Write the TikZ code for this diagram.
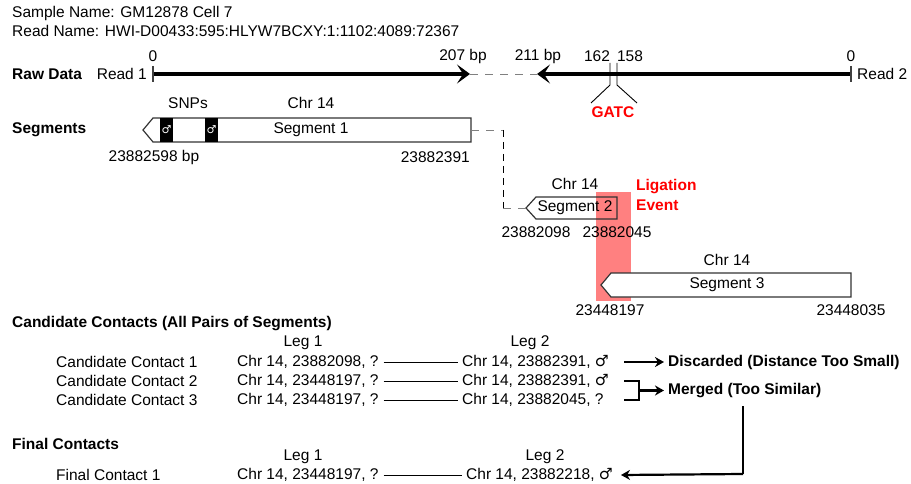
\documentclass[tikz,border=0pt]{standalone}
\usepackage{fontspec}
\setmainfont{Liberation Sans}
\newfontfamily\symfont{DejaVu Sans}
\usetikzlibrary{arrows.meta}

\definecolor{ligfill}{HTML}{FF8080}
\definecolor{ligtext}{HTML}{FF0000}
\newcommand{\malesym}{{\symfont\char"2642}}

\tikzset{
  lbl/.style={inner sep=0pt},
  hdr/.style={inner sep=0pt, anchor=west, font=\fontsize{15.5}{18}\bfseries},
  redlbl/.style={inner sep=0pt, text=ligtext, font=\fontsize{15.5}{18}\bfseries},
  readline/.style={line width=4.5pt, -{Stealth[length=13pt, width=19pt, inset=6pt]}},
  gapline/.style={gray, line width=0.9pt, dash pattern=on 8pt off 7pt},
  tickline/.style={darkgray, line width=1.4pt},
  segbox/.style={draw=black!80, line width=1.2pt, fill=white},
  snpbox/.style={fill=black, text=white, inner sep=0pt, minimum width=13pt,
    minimum height=24pt, font=\fontsize{11}{12}\selectfont},
  legline/.style={line width=0.9pt},
  resline/.style={line width=2.4pt},
  resarrow/.style={line width=2.2pt, -{Stealth[length=9pt, width=10pt]}},
}

\begin{document}
\begin{tikzpicture}[x=1pt, y=-1pt, font=\fontsize{15.5}{18}\selectfont, >=Stealth]
  \useasboundingbox (0,0) rectangle (911,484);
  \fill[white] (0,0) rectangle (911,484);

  % header
  \node[lbl, anchor=west] (sample) at (12,13) {Sample Name: GM12878 Cell 7};
  \node[lbl, anchor=west] (readname) at (12,31) {Read Name: HWI-D00433:595:HLYW7BCXY:1:1102:4089:72367};

  % raw data
  \node[hdr] (raw) at (12,74) {Raw Data};
  \node[lbl, anchor=east] (read1) at (147,74) {Read 1};
  \node[lbl, anchor=west] (read2) at (857,74) {Read 2};
  \coordinate (r1s) at (153,74);
  \coordinate (r1e) at (470,74);
  \coordinate (r2s) at (851,74);
  \coordinate (r2e) at (537,74);
  \draw[gapline] (r1e) -- (r2e);
  \draw[readline] (r1s) -- (r1e);
  \draw[readline] (r2s) -- (r2e);
  \draw[tickline] (153,66) -- (153,82);
  \draw[tickline] (851,66) -- (851,82);
  \node[lbl] (r1zero) at (153,56) {0};
  \node[lbl] (r1len) at (463,56) {207 bp};
  \node[lbl] (r2len) at (538,56) {211 bp};
  \node[lbl] (r2zero) at (851,56) {0};
  \node[lbl] (pos162) at (597,56) {162};
  \node[lbl] (pos158) at (630,56) {158};
  % restriction site
  \node[redlbl] (gatc) at (613,112) {GATC};
  \draw[line width=0.9pt] (610,63) -- (610,85) -- (591,103);
  \draw[line width=0.9pt] (617,63) -- (617,85) -- (637,103);

  % segments
  \node[hdr] (segs) at (12,130) {Segments};
  \draw[segbox] (153,118) -- (471,118) -- (471,142) -- (153,142) -- (143,130) -- cycle;
  \node[snpbox] (snp1) at (166.5,130) {\malesym};
  \node[snpbox] (snp2) at (211.5,130) {\malesym};
  \node[lbl] (snps) at (188,103) {SNPs};
  \node[lbl] (chr1) at (311,103) {Chr 14};
  \node[lbl] (seg1) at (311,130) {Segment 1};
  \node[lbl] (seg1l) at (154,157) {23882598 bp};
  \node[lbl, anchor=east] (seg1r) at (470,157) {23882391};

  \fill[ligfill] (596,192) rectangle (631,301);
  \node[redlbl, anchor=west] (lig1) at (636,187) {Ligation};
  \node[redlbl, anchor=west] (lig2) at (636,205) {Event};

  \draw[segbox, fill=none] (536,197) -- (617,197) -- (617,219) -- (536,219) -- (526,208) -- cycle;
  \node[lbl] (chr2) at (575,184) {Chr 14};
  \node[lbl] (seg2) at (575,208) {Segment 2};
  \node[lbl] (seg2l) at (536,232) {23882098};
  \node[lbl] (seg2r) at (617,232) {23882045};

  \draw[segbox] (611,273) -- (851,273) -- (851,297) -- (611,297) -- (601,285) -- cycle;
  \node[lbl] (chr3) at (727,260) {Chr 14};
  \node[lbl] (seg3) at (727,285) {Segment 3};
  \node[lbl] (seg3l) at (610,310) {23448197};
  \node[lbl] (seg3r) at (851,310) {23448035};

  % join segment 1 to segment 2
  \coordinate (j1) at (471,130);
  \coordinate (j2) at (503,130);
  \coordinate (j3) at (503,208);
  \coordinate (j4) at (526,208);
  \draw[gapline] (j1) -- (j2);
  \draw[line width=0.9pt, dash pattern=on 7pt off 5pt] (j2) -- (j3);
  \draw[gapline] (j3) -- (j4);

  % candidate contacts
  \node[hdr] (cand) at (12,324) {Candidate Contacts (All Pairs of Segments)};
  \node[lbl] (cleg1) at (303,343) {Leg 1};
  \node[lbl] (cleg2) at (530,343) {Leg 2};
  \node[lbl, anchor=west] (cc1) at (56,362) {Candidate Contact 1};
  \node[lbl, anchor=west] (cc2) at (56,381) {Candidate Contact 2};
  \node[lbl, anchor=west] (cc3) at (56,400) {Candidate Contact 3};
  \node[lbl, anchor=west] (ca1) at (237,362) {Chr 14, 23882098, ?};
  \node[lbl, anchor=west] (ca2) at (237,381) {Chr 14, 23448197, ?};
  \node[lbl, anchor=west] (ca3) at (237,400) {Chr 14, 23448197, ?};
  \node[lbl, anchor=west] (cb1) at (462,362) {Chr 14, 23882391, \malesym};
  \node[lbl, anchor=west] (cb2) at (462,381) {Chr 14, 23882391, \malesym};
  \node[lbl, anchor=west] (cb3) at (462,400) {Chr 14, 23882045, ?};
  \draw[legline] ([xshift=5pt]ca1.east) -- ([xshift=-4pt]cb1.west);
  \draw[legline] ([xshift=5pt]ca2.east) -- ([xshift=-4pt]cb2.west);
  \draw[legline] ([xshift=5pt]ca3.east) -- ([xshift=-4pt]cb3.west);

  \node[hdr] (disc) at (668,362) {Discarded (Distance Too Small)};
  \node[hdr] (merg) at (668,390.5) {Merged (Too Similar)};
  \draw[resarrow] (624,362) -- ([xshift=-4pt]disc.west);
  \coordinate (b1) at (624,381);
  \coordinate (b2) at (639,381);
  \coordinate (b3) at (639,400);
  \coordinate (b4) at (624,400);
  \draw[resline] (b1) -- (b2) -- (b3) -- (b4);
  \draw[resarrow] (639,390.5) -- ([xshift=-4pt]merg.west);

  % final contacts
  \node[hdr] (fin) at (12,444) {Final Contacts};
  \node[lbl] (fleg1) at (303,457) {Leg 1};
  \node[lbl] (fleg2) at (545,457) {Leg 2};
  \node[lbl, anchor=west] (fc1) at (56,475) {Final Contact 1};
  \node[lbl, anchor=west] (fa1) at (237,475) {Chr 14, 23448197, ?};
  \node[lbl, anchor=west] (fb1) at (466,475) {Chr 14, 23882218, \malesym};
  \draw[legline] ([xshift=5pt]fa1.east) -- ([xshift=-4pt]fb1.west);
  \coordinate (m1) at (743,406);
  \coordinate (m2) at (743,474);
  \draw[resline] (m1) -- (m2);
  \draw[resarrow] (m2) -- ([xshift=8pt]fb1.east);
\end{tikzpicture}
\end{document}
